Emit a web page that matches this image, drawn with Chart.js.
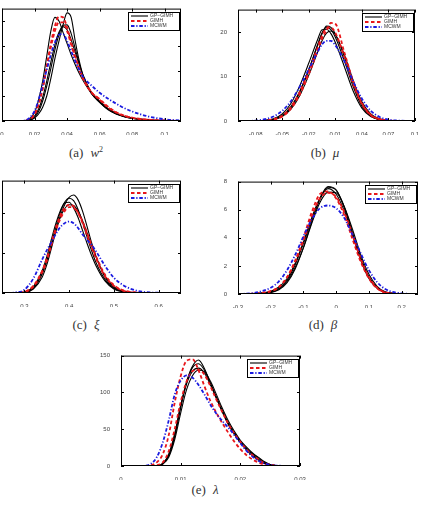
<!DOCTYPE html>
<html>
<head>
<meta charset="utf-8">
<script src="https://cdn.jsdelivr.net/npm/chart.js@4.4.1/dist/chart.umd.min.js"></script>
<style>
  html, body { margin: 0; padding: 0; background: #fff; }
  body { width: 422px; height: 505px; position: relative; overflow: hidden; }
  canvas { position: absolute; }
  .cap { position: absolute; font-family: "Liberation Serif", "Times New Roman", serif; font-size: 13px; color: #333; white-space: nowrap; transform: translateX(-50%); }
  .cap .sym { margin-left: 7px; font-style: italic; }
  .cap sup { font-size: 8px; font-style: normal; }
</style>
</head>
<body>
<canvas id="chartA"></canvas>
<canvas id="chartB"></canvas>
<canvas id="chartC"></canvas>
<canvas id="chartD"></canvas>
<canvas id="chartE"></canvas>

<div class="cap" style="left:86px; top:145px">(a)<span class="sym">w<sup>2</sup></span></div>
<div class="cap" style="left:325px; top:145px">(b)<span class="sym">μ</span></div>
<div class="cap" style="left:86px; top:317px">(c)<span class="sym">ξ</span></div>
<div class="cap" style="left:323px; top:317px">(d)<span class="sym">β</span></div>
<div class="cap" style="left:205px; top:482px">(e)<span class="sym">λ</span></div>

<script>
// legend names, one per method
const methods = ['GP\u2212GIMH', 'GIMH', 'MCWM'];

// (a) w^2
const gridA = [0, 0.01, 0.015, 0.0175, 0.02, 0.0225, 0.025, 0.0275, 0.03, 0.0325, 0.035, 0.0375, 0.04, 0.0425, 0.045, 0.0475, 0.05, 0.055, 0.06, 0.065, 0.07, 0.075, 0.08, 0.09, 0.1, 0.11];
const blackA = [
  [0, 0, 0.1, 0.4, 1.2, 2.8, 5.5, 10, 17, 25, 32, 38.5, 43.3, 41.5, 32, 24, 18, 11, 7.5, 4.8, 3, 1.8, 1.1, 0.4, 0.1, 0],
  [0, 0, 0.3, 1.2, 3.5, 8.5, 16, 26, 36, 41.5, 40, 35.5, 31, 26.5, 22.5, 19, 16, 11, 7.8, 5, 3.1, 1.9, 1.2, 0.5, 0.2, 0],
  [0, 0, 0.1, 0.6, 2, 4.8, 9.5, 16, 23.5, 30.5, 35.5, 37.8, 36.5, 32.5, 27.5, 22.5, 18, 11.5, 8, 5, 3, 1.8, 1.1, 0.4, 0.1, 0],
  [0, 0, 0.1, 0.4, 1.5, 3.8, 8, 14, 21, 28.5, 34.5, 38.3, 38.5, 35, 29, 23, 17.5, 11, 7.5, 4.6, 2.8, 1.7, 1, 0.4, 0.1, 0]
];
const redA = [
  [0, 0, 0.2, 0.8, 2.6, 6.5, 13, 22, 31, 38, 41.8, 41.5, 37.5, 31.5, 26, 21, 17, 11.5, 8.8, 5.8, 3.6, 2.2, 1.3, 0.5, 0.2, 0],
  [0, 0, 0.2, 0.9, 2.8, 6.8, 13, 21.5, 29.5, 36, 39.5, 39.5, 36, 30.5, 25, 20.5, 16.5, 11.5, 8.5, 5.5, 3.4, 2.1, 1.3, 0.5, 0.2, 0]
];
const blueA = [
  [0, 0, 0.4, 1.6, 4, 8.5, 14.5, 20.5, 26.5, 31.5, 34.5, 34.8, 32, 28, 24, 20.5, 17.5, 14.2, 11.3, 9, 7, 5.2, 3.8, 1.8, 0.7, 0.2]
];
const xTicksA = [0, 0.02, 0.04, 0.06, 0.08, 0.1];
const xLabelsA = ['0', '0.02', '0.04', '0.06', '0.08', '0.1'];
const yTicksA = [0, 10, 20, 30, 40];

// (b) mu
const gridB = [-0.1, -0.08, -0.07, -0.06, -0.05, -0.04, -0.03, -0.02, -0.01, -0.005, 0, 0.005, 0.01, 0.02, 0.03, 0.04, 0.05, 0.06, 0.07, 0.08, 0.1];
const blackB = [
  [0, 0, 0.1, 0.4, 1.3, 3.3, 6.8, 11.5, 17, 19.6, 21.3, 21, 19.5, 14.5, 8.5, 3.8, 1.3, 0.4, 0.1, 0, 0],
  [0, 0, 0.15, 0.5, 1.6, 4, 8, 13, 18.3, 20.5, 20.6, 19.6, 17.6, 12.3, 6.8, 2.9, 1, 0.3, 0.05, 0, 0],
  [0, 0, 0.05, 0.3, 1, 2.7, 5.8, 10.3, 15.5, 18, 19.7, 20.2, 19.4, 15, 9.2, 4.3, 1.6, 0.5, 0.1, 0, 0],
  [0, 0, 0.05, 0.3, 1.1, 3, 6.5, 11.5, 17.2, 19.8, 21, 20.5, 18.8, 13.6, 7.8, 3.3, 1.1, 0.3, 0.05, 0, 0]
];
const redB = [
  [0, 0, 0.05, 0.3, 1, 2.8, 6, 10.5, 15.8, 18.5, 20.3, 22, 21.8, 15.5, 9, 4, 1.4, 0.4, 0.1, 0, 0],
  [0, 0, 0.1, 0.4, 1.2, 3.2, 6.6, 11.2, 16.5, 19.2, 20.8, 21, 19.8, 14.5, 8.4, 3.8, 1.3, 0.4, 0.1, 0, 0]
];
const blueB = [
  [0, 0.1, 0.4, 1, 2.3, 4.5, 7.8, 11.6, 15.5, 17.2, 18, 18, 17, 13.5, 9, 5, 2.3, 0.9, 0.3, 0.1, 0]
];
const xTicksB = [-0.08, -0.05, -0.02, 0.01, 0.04, 0.07, 0.1];
const xLabelsB = ['-0.08', '-0.05', '-0.02', '0.01', '0.04', '0.07', '0.1'];
const yTicksB = [0, 10, 20];

// (c) xi
const gridC = [0.25, 0.28, 0.3, 0.32, 0.34, 0.35, 0.36, 0.37, 0.38, 0.39, 0.4, 0.41, 0.42, 0.43, 0.44, 0.45, 0.46, 0.48, 0.5, 0.52, 0.55, 0.6, 0.65];
const blackC = [
  [0, 0, 0.05, 0.5, 2, 3.5, 5.5, 7.6, 9.5, 11, 11.9, 12.2, 11.6, 10.2, 8.3, 6.3, 4.6, 2, 0.7, 0.2, 0, 0, 0],
  [0, 0, 0.1, 0.8, 2.8, 4.5, 6.6, 8.6, 10.2, 11.2, 11.3, 10.6, 9.4, 7.8, 6.2, 4.7, 3.4, 1.5, 0.5, 0.15, 0, 0, 0],
  [0, 0, 0.08, 0.6, 2.4, 4, 6, 8.2, 10, 11.3, 11.8, 11.5, 10.4, 8.8, 7, 5.3, 3.8, 1.7, 0.6, 0.15, 0, 0, 0],
  [0, 0, 0.1, 0.7, 2.5, 4, 5.9, 7.8, 9.4, 10.5, 11, 10.9, 10.2, 9, 7.5, 5.9, 4.5, 2.1, 0.8, 0.25, 0.05, 0, 0]
];
const redC = [
  [0, 0.02, 0.15, 0.9, 2.8, 4.3, 6.2, 8.1, 9.6, 10.6, 11, 10.8, 10, 8.7, 7.2, 5.7, 4.3, 2.1, 0.9, 0.3, 0.05, 0, 0],
  [0, 0.02, 0.12, 0.8, 2.6, 4, 5.9, 7.7, 9.2, 10.2, 10.7, 10.6, 10, 8.9, 7.5, 6, 4.6, 2.3, 1, 0.35, 0.08, 0, 0]
];
const blueC = [
  [0, 0.08, 0.4, 1.8, 4.2, 5.3, 6.3, 7.3, 8.2, 8.7, 8.9, 8.7, 8.1, 7.3, 6.6, 6, 5.2, 3.4, 1.9, 1, 0.3, 0.03, 0]
];
const xTicksC = [0.3, 0.4, 0.5, 0.6];
const xLabelsC = ['0.3', '0.4', '0.5', '0.6'];
const yTicksC = [0, 5, 10];

// (d) beta
const gridD = [-0.3, -0.25, -0.2, -0.175, -0.15, -0.125, -0.1, -0.075, -0.05, -0.025, 0, 0.025, 0.05, 0.075, 0.1, 0.125, 0.15, 0.2, 0.25];
const blackD = [
  [0, 0.02, 0.15, 0.4, 1, 2.1, 3.6, 5.3, 6.8, 7.65, 7.4, 6.2, 4.4, 2.6, 1.2, 0.45, 0.12, 0.01, 0],
  [0, 0.03, 0.2, 0.5, 1.1, 2.2, 3.7, 5.4, 6.8, 7.5, 7.1, 5.9, 4.2, 2.5, 1.2, 0.45, 0.12, 0.01, 0],
  [0, 0.02, 0.12, 0.35, 0.9, 1.9, 3.3, 5, 6.5, 7.25, 7.2, 6.2, 4.6, 2.8, 1.4, 0.55, 0.15, 0.01, 0],
  [0, 0.01, 0.1, 0.3, 0.8, 1.8, 3.3, 5.1, 6.7, 7.6, 7.4, 6.1, 4.2, 2.4, 1.1, 0.4, 0.1, 0, 0]
];
const redD = [
  [0, 0.03, 0.2, 0.5, 1.2, 2.4, 4, 5.8, 7.1, 7.3, 6.8, 5.6, 3.9, 2.3, 1.1, 0.4, 0.1, 0.01, 0],
  [0, 0.03, 0.2, 0.5, 1.2, 2.3, 3.8, 5.5, 6.8, 7.2, 6.9, 5.8, 4.2, 2.5, 1.2, 0.45, 0.12, 0.01, 0]
];
const blueD = [
  [0, 0.08, 0.45, 0.9, 1.7, 2.8, 4.1, 5.3, 6.1, 6.3, 6.1, 5.4, 4.2, 2.9, 1.7, 0.85, 0.35, 0.05, 0]
];
const xTicksD = [-0.3, -0.2, -0.1, 0, 0.1, 0.2];
const xLabelsD = ['-0.3', '-0.2', '-0.1', '0', '0.1', '0.2'];
const yTicksD = [0, 2, 4, 6, 8];

// (e) lambda
const gridE = [0, 0.004, 0.005, 0.006, 0.007, 0.008, 0.009, 0.01, 0.011, 0.012, 0.013, 0.014, 0.015, 0.016, 0.017, 0.018, 0.019, 0.02, 0.021, 0.022, 0.023, 0.024, 0.025, 0.027, 0.03];
const blackE = [
  [0, 0, 0, 0.3, 3, 15, 42, 82, 115, 136, 144, 132, 112, 93, 75, 57, 44, 32, 22, 14, 8, 3.5, 1.2, 0.1, 0],
  [0, 0, 0, 0.4, 3.5, 16, 44, 82, 112, 129, 133, 126, 110, 92, 74, 58, 45, 34, 24, 16, 9, 4, 1.5, 0.1, 0],
  [0, 0, 0, 0.2, 2.5, 12, 36, 72, 104, 123, 130, 128, 115, 97, 78, 61, 47, 35, 26, 18, 11, 5, 2, 0.2, 0],
  [0, 0, 0, 0.3, 3, 14, 40, 79, 113, 134, 139, 130, 112, 92, 73, 56, 43, 32, 24, 17, 12, 6, 2, 0.2, 0]
];
const redE = [
  [0, 0, 1, 5, 16, 42, 86, 122, 143, 145, 130, 108, 88, 72, 58, 45, 33, 23, 15, 9, 5, 2, 0.8, 0.1, 0],
  [0, 0, 0.2, 1, 5, 20, 50, 87, 115, 129, 131, 124, 108, 90, 73, 57, 44, 33, 23, 15, 9, 4, 1.5, 0.1, 0]
];
const blueE = [
  [0, 0.3, 3, 12, 32, 62, 97, 116, 123, 120, 110, 97, 83, 71, 61, 52, 42, 31, 21, 13, 7, 3.5, 1.5, 0.3, 0]
];
const xTicksE = [0, 0.01, 0.02, 0.03];
const xLabelsE = ['0', '0.01', '0.02', '0.03'];
const yTicksE = [0, 50, 100, 150];

// line looks, in the order of `methods`
const looks = [
  { color: '#000000', width: 1.1, dash: [] },
  { color: '#e8161a', width: 1.8, dash: [3.5, 2.5] },
  { color: '#1a1ae0', width: 1.8, dash: [3.5, 1.8, 1.2, 1.8] }
];

const ML = 26, MR = 12, MT = 4, MB = 14;

const frameAndLegend = {
  id: 'frameAndLegend',
  afterDraw(chart) {
    const { ctx, chartArea: a } = chart;
    const sx = chart.scales.x, sy = chart.scales.y;
    ctx.save();
    ctx.strokeStyle = '#000';
    ctx.lineWidth = 1;
    ctx.setLineDash([]);
    ctx.strokeRect(a.left + 0.5, a.top + 0.5, a.width - 1, a.height - 1);

    // matlab style inward ticks on all four sides
    ctx.beginPath();
    sx.ticks.forEach(t => {
      const p = Math.round(sx.getPixelForValue(t.value)) + 0.5;
      ctx.moveTo(p, a.bottom); ctx.lineTo(p, a.bottom - 3);
      ctx.moveTo(p, a.top); ctx.lineTo(p, a.top + 3);
    });
    sy.ticks.forEach(t => {
      const p = Math.round(sy.getPixelForValue(t.value)) + 0.5;
      ctx.moveTo(a.left, p); ctx.lineTo(a.left + 3, p);
      ctx.moveTo(a.right, p); ctx.lineTo(a.right - 3, p);
    });
    ctx.stroke();

    // legend box, top right
    const w = 51, h = 18;
    const lx = Math.round(a.right - 2 - w), ly = Math.round(a.top + 3);
    ctx.fillStyle = '#fff';
    ctx.fillRect(lx, ly, w, h);
    ctx.strokeRect(lx + 0.5, ly + 0.5, w, h);
    ctx.font = '5px "Liberation Sans", Arial, sans-serif';
    ctx.textBaseline = 'middle';
    methods.forEach((name, i) => {
      const st = looks[i];
      const y = ly + 4 + i * 5;
      ctx.strokeStyle = st.color;
      ctx.lineWidth = st.width;
      ctx.setLineDash(st.dash);
      ctx.beginPath();
      ctx.moveTo(lx + 3, y);
      ctx.lineTo(lx + 20, y);
      ctx.stroke();
      ctx.fillStyle = '#333';
      ctx.fillText(name, lx + 22, y);
    });
    ctx.restore();
  }
};

function lineSet(grid, vals, look) {
  return {
    data: grid.map((x, i) => ({ x: x, y: vals[i] })),
    borderColor: look.color,
    borderWidth: look.width,
    borderDash: look.dash,
    pointRadius: 0,
    fill: false,
    cubicInterpolationMode: 'monotone'
  };
}

function makePanel(id, rect, grid, black, red, blue, xMin, xMax, yMax, xTicks, xLabels, yTicks) {
  const [left, top, right, bottom] = rect;
  const canvas = document.getElementById(id);
  canvas.width = right - left + ML + MR;
  canvas.height = bottom - top + MT + MB;
  canvas.style.left = (left - ML) + 'px';
  canvas.style.top = (top - MT) + 'px';

  const datasets = [];
  blue.forEach(v => datasets.push(lineSet(grid, v, looks[2])));
  red.forEach(v => datasets.push(lineSet(grid, v, looks[1])));
  black.forEach(v => datasets.push(lineSet(grid, v, looks[0])));

  const tickFont = { size: 6, family: '"Liberation Sans", Arial, sans-serif' };

  new Chart(canvas, {
    type: 'line',
    data: { datasets },
    options: {
      responsive: false,
      animation: false,
      layout: { padding: { top: MT, right: MR, left: 0, bottom: 0 } },
      plugins: { legend: { display: false }, tooltip: { enabled: false } },
      scales: {
        x: {
          type: 'linear', min: xMin, max: xMax,
          afterBuildTicks: ax => { ax.ticks = xTicks.map(v => ({ value: v })); },
          afterFit: s => { s.height = MB; },
          grid: { display: false }, border: { display: false },
          ticks: { font: tickFont, color: '#444', padding: 2, maxRotation: 0, autoSkip: false,
                   callback: (v, i) => xLabels[i] }
        },
        y: {
          type: 'linear', min: 0, max: yMax,
          afterBuildTicks: ax => { ax.ticks = yTicks.map(v => ({ value: v })); },
          afterFit: s => { s.width = ML; },
          grid: { display: false }, border: { display: false },
          ticks: { font: tickFont, color: '#444', padding: 3, autoSkip: false,
                   callback: v => String(v) }
        }
      }
    },
    plugins: [frameAndLegend]
  });
}

makePanel('chartA', [2, 6, 181, 121], gridA, blackA, redA, blueA, 0, 0.11, 45, xTicksA, xLabelsA, yTicksA);
makePanel('chartB', [238, 7, 415, 121], gridB, blackB, redB, blueB, -0.1, 0.1, 25, xTicksB, xLabelsB, yTicksB);
makePanel('chartC', [2, 178, 181, 293], gridC, blackC, redC, blueC, 0.25, 0.65, 14, xTicksC, xLabelsC, yTicksC);
makePanel('chartD', [238, 179, 418, 294], gridD, blackD, redD, blueD, -0.3, 0.25, 8, xTicksD, xLabelsD, yTicksD);
makePanel('chartE', [121, 353, 300, 466], gridE, blackE, redE, blueE, 0, 0.03, 150, xTicksE, xLabelsE, yTicksE);
</script>
</body>
</html>
